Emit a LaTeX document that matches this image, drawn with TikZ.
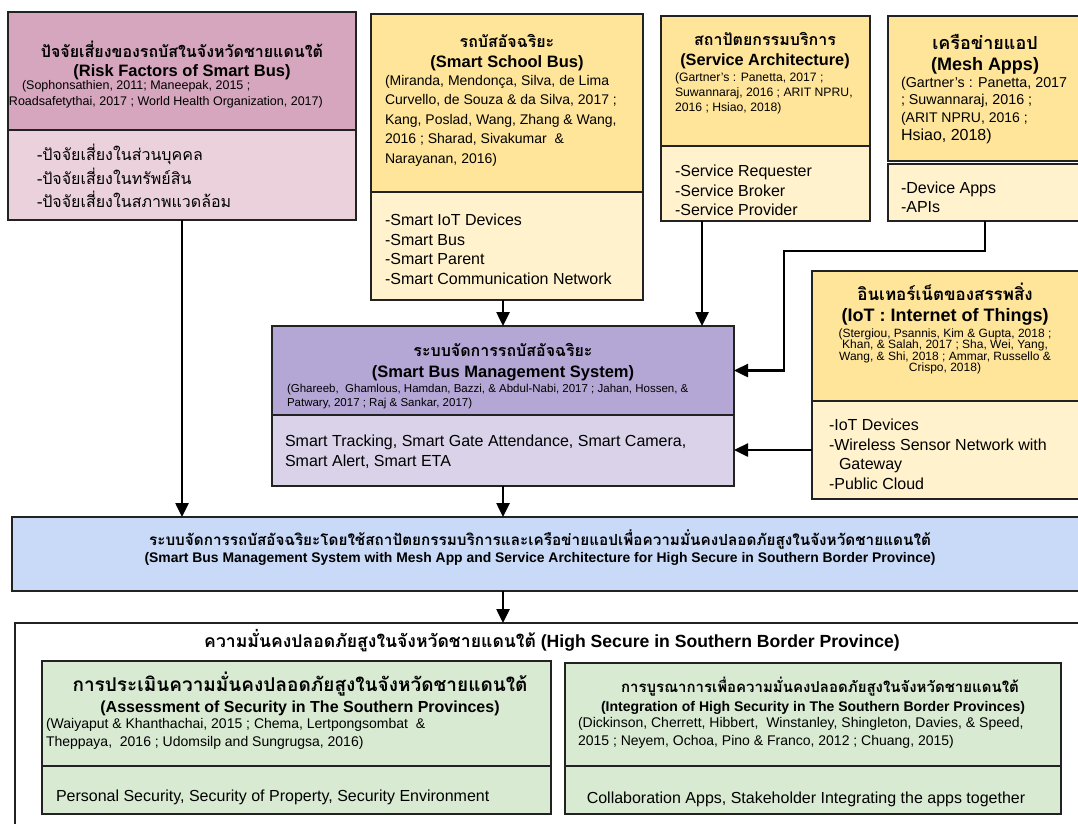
\documentclass[tikz,border=0pt]{standalone}
\usepackage{fontspec}
\setmainfont{Liberation Sans}
\newfontfamily\thai[Script=Thai]{Loma}
\usetikzlibrary{arrows.meta}

\newcommand\fsz[1]{\fontsize{#1}{#1}\selectfont}

\definecolor{pinkTop}{HTML}{D5A6BD}
\definecolor{pinkBot}{HTML}{EAD1DC}
\definecolor{yelTop}{HTML}{FFE599}
\definecolor{yelBot}{HTML}{FFF2CC}
\definecolor{purTop}{HTML}{B4A7D6}
\definecolor{purBot}{HTML}{D9D2E9}
\definecolor{blueBox}{HTML}{C9DAF8}
\definecolor{greenBox}{HTML}{D9EAD3}
\definecolor{edge}{HTML}{222222}

\tikzset{
  sec/.style={rectangle, draw=edge, line width=1.1pt, inner sep=0pt, outer sep=0pt, anchor=north west},
  txt/.style={inner sep=0pt, outer sep=0pt, text=black, anchor=base},
  ltxt/.style={txt, anchor=base west},
  thtitle/.style={txt, font=\thai\bfseries\fsz{#1}},
  entitle/.style={txt, font=\bfseries\fsz{#1}},
  cite/.style={ltxt, font=\fsz{#1}},
  item/.style={ltxt, font=\fsz{16}},
  thitem/.style={ltxt, font=\thai\fsz{#1}},
  arr/.style={line width=2.5pt, draw=black, -{Triangle[length=14pt,width=13pt]}},
}

% box section from (x1,y1) to (x2,y2), y measured downwards
\newcommand\secbox[6]{%
  \node[sec, fill=#6, minimum width={(#4)-(#2)}, minimum height={(#5)-(#3)}] (#1) at (#2,#3) {};}

\begin{document}
\begin{tikzpicture}[x=1pt, y=-1pt]
\clip (0,0) rectangle (1078,823);
\fill[white] (0,0) rectangle (1078,823);

% ---------- risk factors ----------
\secbox{riskT}{8}{12}{356}{130}{pinkTop}
\secbox{riskB}{8}{130}{356}{220}{pinkBot}
\node[thtitle=16] (riskTh) at (182,57) {ปัจจัยเสี่ยงของรถบัสในจังหวัดชายแดนใต้};
\node[entitle=16.5] (riskEn) at (182,76) {(Risk Factors of Smart Bus)};
\node[cite=12.5] (riskC1) at (22,89) {(Sophonsathien, 2011; Maneepak, 2015 ;};
\node[cite=12.5] (riskC2) at (9,105) {Roadsafetythai, 2017 ; World Health Organization, 2017)};
\node[thitem=16] (riskI1) at (37,160) {-ปัจจัยเสี่ยงในส่วนบุคคล};
\node[thitem=16] (riskI2) at (37,184) {-ปัจจัยเสี่ยงในทรัพย์สิน};
\node[thitem=16] (riskI3) at (37,207) {-ปัจจัยเสี่ยงในสภาพแวดล้อม};

% ---------- smart school bus ----------
\secbox{ssbT}{371}{14}{643}{192}{yelTop}
\secbox{ssbB}{371}{192}{643}{300}{yelBot}
\node[thtitle=16] (ssbTh) at (507,47) {รถบัสอัจฉริยะ};
\node[entitle=16.5] (ssbEn) at (507,67) {(Smart School Bus)};
\node[cite=14] (ssbC1) at (385,85) {(Miranda, Mendonça, Silva, de Lima};
\node[cite=14] (ssbC2) at (385,104) {Curvello, de Souza \& da Silva, 2017 ;};
\node[cite=14] (ssbC3) at (385,124) {Kang, Poslad, Wang, Zhang \& Wang,};
\node[cite=14] (ssbC4) at (385,143) {2016 ; Sharad, Sivakumar\ \ \&};
\node[cite=14] (ssbC5) at (385,163) {Narayanan, 2016)};
\node[item] (ssbI1) at (385,225) {-Smart IoT Devices};
\node[item] (ssbI2) at (385,245) {-Smart Bus};
\node[item] (ssbI3) at (385,264) {-Smart Parent};
\node[item] (ssbI4) at (385,284) {-Smart Communication Network};

% ---------- service architecture ----------
\secbox{saT}{661}{16}{870}{146}{yelTop}
\secbox{saB}{661}{146}{870}{221}{yelBot}
\node[thtitle=16] (saTh) at (765,45) {สถาปัตยกรรมบริการ};
\node[entitle=16.3] (saEn) at (765,65) {(Service Architecture)};
\node[cite=12.2] (saC1) at (675,81) {(Gartner’s : Panetta, 2017 ;};
\node[cite=12.2] (saC2) at (675,96) {Suwannaraj, 2016 ; ARIT NPRU,};
\node[cite=12.2] (saC3) at (675,111) {2016 ; Hsiao, 2018)};
\node[item] (saI1) at (675,176) {-Service Requester};
\node[item] (saI2) at (675,196) {-Service Broker};
\node[item] (saI3) at (675,215) {-Service Provider};

% ---------- mesh apps ----------
\secbox{meshT}{888}{16}{1082}{161}{yelTop}
\secbox{meshB}{888}{164}{1082}{221}{yelBot}
\node[thtitle=18] (meshTh) at (985,49) {เครือข่ายแอป};
\node[entitle=18] (meshEn) at (985,70) {(Mesh Apps)};
\node[cite=14.3] (meshC1) at (901,87) {(Gartner’s : Panetta, 2017};
\node[cite=14.3] (meshC2) at (901,104) {; Suwannaraj, 2016 ;};
\node[cite=14] (meshC3) at (901,122) {(ARIT NPRU, 2016 ;};
\node[cite=16] (meshC4) at (901,140) {Hsiao, 2018)};
\node[item] (meshI1) at (901,193) {-Device Apps};
\node[item] (meshI2) at (901,212) {-APIs};

% ---------- internet of things ----------
\secbox{iotT}{812}{271}{1082}{401}{yelTop}
\secbox{iotB}{812}{401}{1082}{499}{yelBot}
\node[thtitle=17] (iotTh) at (945,300) {อินเทอร์เน็ตของสรรพสิ่ง};
\node[entitle=18] (iotEn) at (945,321) {(IoT : Internet of Things)};
\node[txt, font=\fsz{12}] (iotC1) at (945,337) {(Stergiou, Psannis, Kim \& Gupta, 2018 ;};
\node[txt, font=\fsz{12}] (iotC2) at (945,348.5) {Khan, \& Salah, 2017 ; Sha, Wei, Yang,};
\node[txt, font=\fsz{12}] (iotC3) at (945,360) {Wang, \& Shi, 2018 ; Ammar, Russello \&};
\node[txt, font=\fsz{12}] (iotC4) at (945,371.5) {Crispo, 2018)};
\node[item] (iotI1) at (829,430) {-IoT Devices};
\node[item] (iotI2) at (829,450) {-Wireless Sensor Network with};
\node[item] (iotI3) at (839,469) {Gateway};
\node[item] (iotI4) at (829,489) {-Public Cloud};

% ---------- smart bus management system ----------
\secbox{sbmsT}{272}{326}{734}{415}{purTop}
\secbox{sbmsB}{272}{415}{734}{486}{purBot}
\node[thtitle=16] (sbmsTh) at (503,356) {ระบบจัดการรถบัสอัจฉริยะ};
\node[entitle=16.5] (sbmsEn) at (503,377) {(Smart Bus Management System)};
\node[cite=11.5] (sbmsC1) at (287,392) {(Ghareeb,\ \ Ghamlous, Hamdan, Bazzi, \& Abdul-Nabi, 2017 ; Jahan, Hossen, \&};
\node[cite=11.5] (sbmsC2) at (287,406) {Patwary, 2017 ; Raj \& Sankar, 2017)};
\node[item] (sbmsI1) at (285,446) {Smart Tracking, Smart Gate Attendance, Smart Camera,};
\node[item] (sbmsI2) at (285,466) {Smart Alert, Smart ETA};

% ---------- combined system ----------
\secbox{blue}{12}{517}{1085}{591}{blueBox}
\node[thtitle=15.3] (blueTh) at (540,545) {ระบบจัดการรถบัสอัจฉริยะโดยใช้สถาปัตยกรรมบริการและเครือข่ายแอปเพื่อความมั่นคงปลอดภัยสูงในจังหวัดชายแดนใต้};
\node[entitle=13.9] (blueEn) at (540,562) {(Smart Bus Management System with Mesh App and Service Architecture for High Secure in Southern Border Province)};

% ---------- high security frame ----------
\node[rectangle, draw=edge, line width=2pt, inner sep=0pt, outer sep=0pt, anchor=north west,
      minimum width=1100, minimum height=300] (frame) at (15,623) {};
\node[txt, font=\fsz{17.6}] (frameTitle) at (552,647) {{\thai\bfseries ความมั่นคงปลอดภัยสูงในจังหวัดชายแดนใต้} \textbf{(High Secure in Southern Border Province)}};

\secbox{asT}{42}{661}{551}{766}{greenBox}
\secbox{asB}{42}{766}{551}{814}{greenBox}
\node[thtitle=19] (asTh) at (300,691) {การประเมินความมั่นคงปลอดภัยสูงในจังหวัดชายแดนใต้};
\node[entitle=16] (asEn) at (300,712) {(Assessment of Security in The Southern Provinces)};
\node[cite=14] (asC1) at (46,728) {(Waiyaput \& Khanthachai, 2015 ; Chema, Lertpongsombat\ \ \&};
\node[cite=14] (asC2) at (46,746) {Theppaya,\ \ 2016 ; Udomsilp and Sungrugsa, 2016)};
\node[item] (asI1) at (56,801) {Personal Security, Security of Property, Security Environment};

\secbox{inT}{565}{663}{1061}{766}{greenBox}
\secbox{inB}{565}{766}{1061}{814}{greenBox}
\node[thtitle=15] (inTh) at (820,692) {การบูรณาการเพื่อความมั่นคงปลอดภัยสูงในจังหวัดชายแดนใต้};
\node[entitle=14] (inEn) at (813,711) {(Integration of High Security in The Southern Border Provinces)};
\node[cite=14] (inC1) at (578,727) {(Dickinson, Cherrett, Hibbert,\ \ Winstanley, Shingleton, Davies, \& Speed,};
\node[cite=14] (inC2) at (578,745) {2015 ; Neyem, Ochoa, Pino \& Franco, 2012 ; Chuang, 2015)};
\node[txt, font=\fsz{16}] (inI1) at (806,803) {Collaboration Apps, Stakeholder Integrating the apps together};

% ---------- connectors ----------
\coordinate (saX) at (702,0);
\coordinate (meshBend) at (784,251);
\draw[arr] (riskB.south) -- (riskB.south |- blue.north);
\draw[arr] (ssbB.south -| sbmsT.north) -- (sbmsT.north);
\draw[arr] (saB.south -| saX) -- (sbmsT.north -| saX);
\draw[arr] (meshB.south) |- (meshBend) |- (sbmsT.east);
\draw[arr] (iotB.west) -- (iotB.west -| sbmsB.east);
\draw[arr] (sbmsB.south) -- (sbmsB.south |- blue.north);
\draw[arr] (blue.south -| sbmsB.south) -- (sbmsB.south |- frame.north);
\end{tikzpicture}
\end{document}
